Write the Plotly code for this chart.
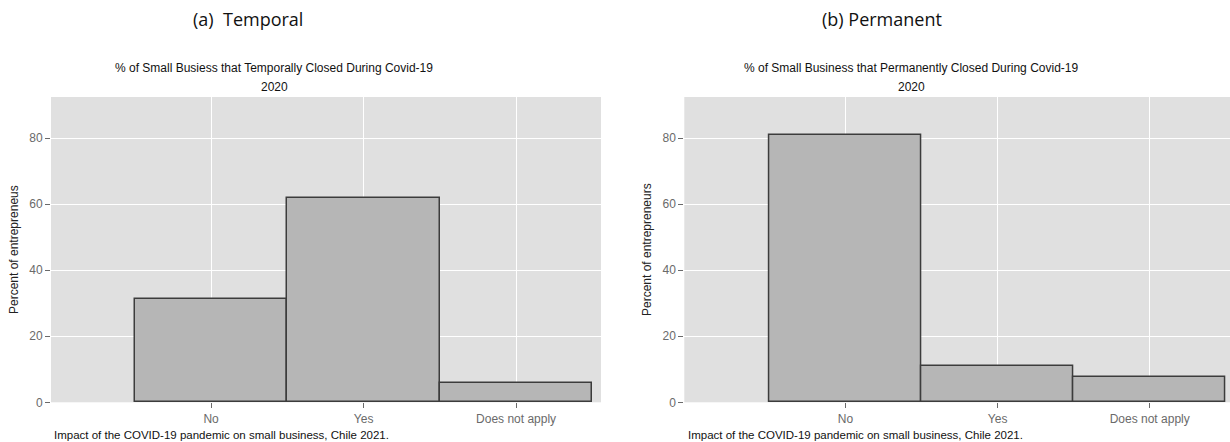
import plotly.graph_objects as go

categories = ["No", "Yes", "Does not apply"]
temporal_pct = [31.4, 62.0, 5.9]
permanent_pct = [81.0, 11.0, 7.6]
y_ticks = [0, 20, 40, 60, 80]

W, H = 1230, 442
BAR_FILL = "#b6b6b6"
BAR_LINE = "#3c3c3c"
PLOT_BG = "#e0e0e0"
TICK_COLOR = "#6a6a6a"


def px(x):
    return x / W


def py(y):
    return 1 - y / H


fig = go.Figure()

fig.add_trace(go.Bar(
    x=categories, y=temporal_pct, xaxis="x", yaxis="y",
    marker=dict(color=BAR_FILL, line=dict(color=BAR_LINE, width=1.5)),
    width=1.0, showlegend=False, hoverinfo="x+y",
))
fig.add_trace(go.Bar(
    x=categories, y=permanent_pct, xaxis="x2", yaxis="y2",
    marker=dict(color=BAR_FILL, line=dict(color=BAR_LINE, width=1.5)),
    width=1.0, showlegend=False, hoverinfo="x+y",
))

common_x = dict(
    type="category", showgrid=True, gridcolor="white", gridwidth=1,
    ticks="outside", ticklen=5, tickcolor=TICK_COLOR, tickwidth=1,
    tickfont=dict(family="Liberation Sans, Arial", size=12, color=TICK_COLOR),
    showline=False, zeroline=False, fixedrange=True, automargin=False,
)
common_y = dict(
    range=[0, 92.5], tickvals=y_ticks, showgrid=True, gridcolor="white",
    gridwidth=1, ticks="outside", ticklen=5, tickcolor=TICK_COLOR, tickwidth=1,
    tickfont=dict(family="Liberation Sans, Arial", size=12, color=TICK_COLOR),
    showline=False, zeroline=False, fixedrange=True, automargin=False,
)

y_dom = [py(402.3), py(97)]

fig.update_layout(
    width=W, height=H,
    margin=dict(l=0, r=0, t=0, b=0),
    paper_bgcolor="white",
    plot_bgcolor=PLOT_BG,
    bargap=0,
    xaxis=dict(common_x, domain=[px(51), px(601)], range=[-1.05, 2.557], anchor="y"),
    yaxis=dict(common_y, domain=y_dom, anchor="x",
               title=dict(text="Percent of entrepreneus", standoff=8,
                          font=dict(family="Liberation Sans, Arial", size=12, color="#222"))),
    xaxis2=dict(common_x, domain=[px(684.3), 1.0], range=[-1.06, 2.528], anchor="y2"),
    yaxis2=dict(common_y, domain=y_dom, anchor="x2",
                title=dict(text="Percent of entrepreneurs", standoff=8,
                           font=dict(family="Liberation Sans, Arial", size=12, color="#222"))),
)

annotations = []
title_font = dict(family="Open Sans, Lato, sans-serif", size=18, color="#111")
sub_font = dict(family="Liberation Sans, Arial", size=12, color="#111")
cap_font = dict(family="Liberation Sans, Arial", size=11.5, color="#111")

annotations.append(dict(text="(a)  Temporal", x=px(248), y=py(19), xref="paper", yref="paper",
                        showarrow=False, font=title_font, xanchor="center", yanchor="middle"))
annotations.append(dict(text="(b) Permanent", x=px(882), y=py(19), xref="paper", yref="paper",
                        showarrow=False, font=title_font, xanchor="center", yanchor="middle"))

annotations.append(dict(text="% of Small Busiess that Temporally Closed During Covid-19",
                        x=px(274), y=py(68), xref="paper", yref="paper", showarrow=False,
                        font=sub_font, xanchor="center", yanchor="middle"))
annotations.append(dict(text="2020", x=px(274), y=py(87), xref="paper", yref="paper",
                        showarrow=False, font=sub_font, xanchor="center", yanchor="middle"))
annotations.append(dict(text="% of Small Business that Permanently Closed During Covid-19",
                        x=px(911), y=py(68), xref="paper", yref="paper", showarrow=False,
                        font=sub_font, xanchor="center", yanchor="middle"))
annotations.append(dict(text="2020", x=px(911), y=py(87), xref="paper", yref="paper",
                        showarrow=False, font=sub_font, xanchor="center", yanchor="middle"))

caption = "Impact of the COVID-19 pandemic on small business, Chile 2021."
annotations.append(dict(text=caption, x=px(52), y=py(435), xref="paper", yref="paper",
                        showarrow=False, font=cap_font, xanchor="left", yanchor="middle"))
annotations.append(dict(text=caption, x=px(686), y=py(435), xref="paper", yref="paper",
                        showarrow=False, font=cap_font, xanchor="left", yanchor="middle"))

fig.update_layout(annotations=annotations)

fig.write_html("out.html", config={"displayModeBar": False})
